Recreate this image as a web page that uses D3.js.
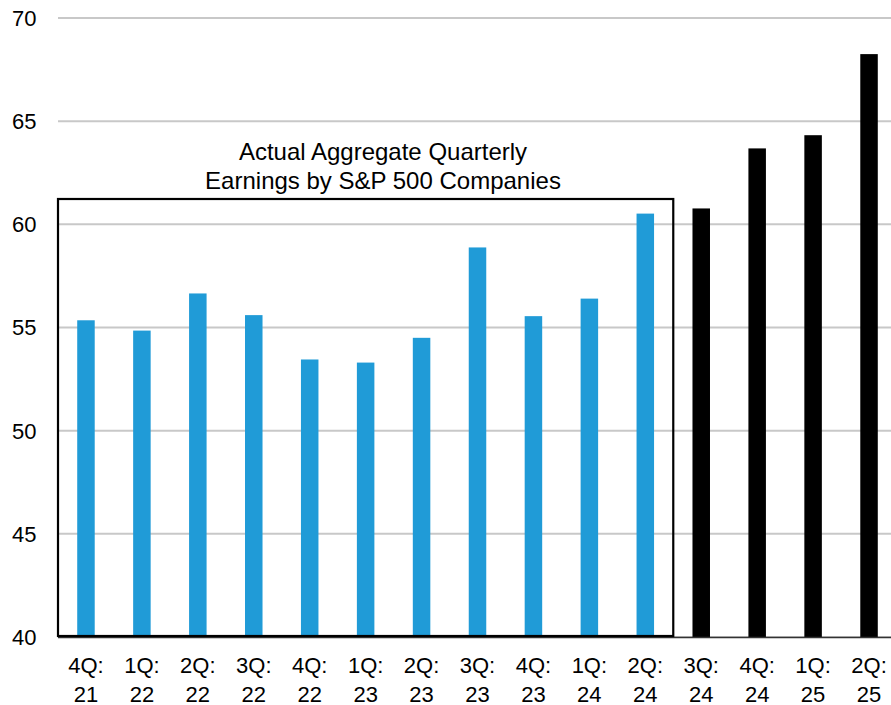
<!DOCTYPE html>
<html>
<head>
<meta charset="utf-8">
<script src="https://cdn.jsdelivr.net/npm/d3@7"></script>
<style>
  body { margin: 0; background: #fff; }
  text { font-family: "Liberation Sans", Arial, sans-serif; fill: #000; }
</style>
</head>
<body>
<div id="chart"></div>
<script>
  // quarters, two-line labels
  const quarters = ["4Q:|21", "1Q:|22", "2Q:|22", "3Q:|22", "4Q:|22", "1Q:|23", "2Q:|23",
                    "3Q:|23", "4Q:|23", "1Q:|24", "2Q:|24", "3Q:|24", "4Q:|24", "1Q:|25", "2Q:|25"];
  const earnings = [55.35, 54.85, 56.65, 55.6, 53.45, 53.3, 54.5,
                    58.88, 55.55, 56.4, 60.52, 60.77, 63.68, 64.32, 68.25];
  const isActual = [true, true, true, true, true, true, true,
                    true, true, true, true, false, false, false, false];
  const yTicks = [40, 45, 50, 55, 60, 65, 70];
  const boxTitle = ["Actual Aggregate Quarterly", "Earnings by S&P 500 Companies"];

  const width = 891, height = 705;
  const mLeft = 58, mRight = 897, mTop = 18, mBottom = 637;

  const svg = d3.select("#chart")
                .append("svg")
                .attr("width", width)
                .attr("height", height);

  const x = d3.scaleBand()
              .domain(quarters)
              .range([mLeft, mRight])
              .paddingInner(0.687)
              .paddingOuter(0.3435);

  const y = d3.scaleLinear()
              .domain([40, 70])
              .range([mBottom, mTop]);

  // gridlines
  svg.selectAll("line.grid")
    .data(yTicks)
    .enter()
    .append("line")
    .attr("class", "grid")
    .attr("x1", mLeft)
    .attr("x2", width)
    .attr("y1", d => y(d))
    .attr("y2", d => y(d))
    .attr("stroke", "#c8c8c8")
    .attr("stroke-width", 2);

  // y labels
  svg.selectAll("text.ylab")
    .data(yTicks)
    .enter()
    .append("text")
    .attr("class", "ylab")
    .attr("x", 36.5)
    .attr("y", d => y(d))
    .attr("dy", "0.36em")
    .attr("text-anchor", "end")
    .style("font-size", "22px")
    .text(d => d);

  // bars
  const bars = quarters.map((q, i) => ({ q: q, v: earnings[i], actual: isActual[i] }));
  svg.selectAll("rect.bar")
    .data(bars)
    .enter()
    .append("rect")
    .attr("class", "bar")
    .attr("x", d => x(d.q))
    .attr("width", x.bandwidth())
    .attr("y", d => y(d.v))
    .attr("height", d => y(40) - y(d.v))
    .attr("fill", d => d.actual ? "#209bd7" : "#000");

  // bottom axis line
  svg.append("line")
    .attr("x1", mLeft)
    .attr("x2", width)
    .attr("y1", mBottom + 0.5)
    .attr("y2", mBottom + 0.5)
    .attr("stroke", "#333")
    .attr("stroke-width", 1.5);

  // box around actual quarters
  const lastActual = quarters[isActual.lastIndexOf(true)];
  const boxRight = x(lastActual) + x.bandwidth() + (x.step() - x.bandwidth()) / 2;
  const boxTop = 199;
  svg.append("rect")
    .attr("x", mLeft)
    .attr("y", boxTop)
    .attr("width", boxRight - mLeft)
    .attr("height", mBottom - 1 - boxTop)
    .attr("fill", "none")
    .attr("stroke", "#000")
    .attr("stroke-width", 2.2);

  svg.selectAll("text.title")
    .data(boxTitle)
    .enter()
    .append("text")
    .attr("class", "title")
    .attr("x", 383)
    .attr("y", (d, i) => 160 + i * 29)
    .attr("text-anchor", "middle")
    .style("font-size", "24px")
    .text(d => d);

  // x labels
  const xl = svg.selectAll("text.xlab")
    .data(quarters)
    .enter()
    .append("text")
    .attr("class", "xlab")
    .attr("text-anchor", "middle")
    .style("font-size", "22px");
  xl.append("tspan")
    .attr("x", d => x(d) + x.bandwidth() / 2)
    .attr("y", 673)
    .text(d => d.split("|")[0]);
  xl.append("tspan")
    .attr("x", d => x(d) + x.bandwidth() / 2)
    .attr("y", 701.5)
    .text(d => d.split("|")[1]);
</script>
</body>
</html>
